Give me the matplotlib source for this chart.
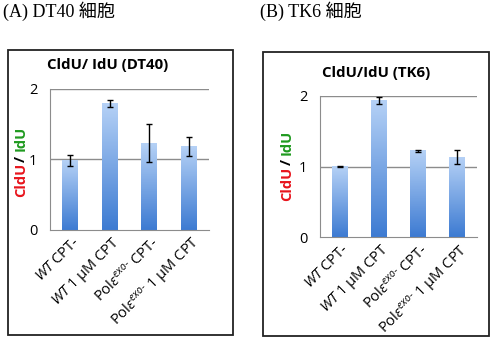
import numpy as np
import matplotlib.pyplot as plt
from matplotlib.colors import LinearSegmentedColormap
from matplotlib.patches import Rectangle

# Daten
categories = [r"$\mathit{WT}$ CPT-", r"$\mathit{WT}$ 1 μM CPT",
              r"Pol$\mathit{\varepsilon}^{\text{exo-}}$ CPT-",
              r"Pol$\mathit{\varepsilon}^{\text{exo-}}$ 1 μM CPT"]
dt40_values = [0.98, 1.79, 1.23, 1.18]
dt40_errors = [0.08, 0.05, 0.27, 0.13]
tk6_values = [1.00, 1.94, 1.22, 1.13]
tk6_errors = [0.01, 0.05, 0.02, 0.10]
yticks = [0, 1, 2]

plt.rcParams['font.family'] = ['Open Sans', 'DejaVu Sans']
plt.rcParams['mathtext.fontset'] = 'custom'
plt.rcParams['mathtext.rm'] = 'Open Sans:italic'
plt.rcParams['mathtext.it'] = 'Open Sans:italic'
plt.rcParams['mathtext.bf'] = 'Open Sans:bold'

cmap = LinearSegmentedColormap.from_list('bar', ['#3d7bd2', '#b5d1f6'])
grad = np.linspace(0, 1, 100).reshape(-1, 1)

fig = plt.figure(figsize=(4.95, 3.62), dpi=100)

# Rahmen der beiden Panels
fig.patches.append(Rectangle((0.016, 0.075), 0.455, 0.787, transform=fig.transFigure,
                             fill=False, edgecolor='#222222', linewidth=1.3))
fig.patches.append(Rectangle((0.531, 0.072), 0.457, 0.785, transform=fig.transFigure,
                             fill=False, edgecolor='#222222', linewidth=1.3))

cjk = ['Liberation Serif', 'Noto Sans CJK JP']
fig.text(0.006, 0.968, '(A) DT40 細胞', family=cjk, fontsize=13, va='center')
fig.text(0.526, 0.968, '(B) TK6 細胞', family=cjk, fontsize=13, va='center')


def panel(rect, values, errors, title, title_pos, ylab_pos):
    ax = fig.add_axes(rect)
    x = np.arange(len(values))
    bars = ax.bar(x, values, width=0.4, color='none', edgecolor='none', zorder=2)
    for b in bars:
        x0 = b.get_x()
        ax.imshow(grad, extent=[x0, x0 + b.get_width(), 0, b.get_height()],
                  origin='lower', aspect='auto', cmap=cmap, zorder=2)
    ax.errorbar(x, values, yerr=errors, fmt='none', ecolor='black',
                elinewidth=1, capsize=2.5, capthick=1, zorder=3)
    ax.set_xlim(-0.5, len(values) - 0.5)
    ax.set_ylim(0, 2)
    ax.set_yticks(yticks)
    ax.set_yticklabels([str(t) for t in yticks], fontsize=10.5)
    ax.tick_params(axis='y', length=0, pad=9)
    ax.tick_params(axis='x', length=0, pad=3)
    ax.set_xticks(x + 0.05)
    ax.set_xticklabels(categories, rotation=45, ha='right', va='top',
                       rotation_mode='anchor', fontsize=10.5)
    for t in yticks[1:]:
        ax.axhline(t, color='#8c8c8c', linewidth=1, zorder=1)
    for s in ['top', 'right']:
        ax.spines[s].set_visible(False)
    for s in ['left', 'bottom']:
        ax.spines[s].set_color('#8c8c8c')
    fig.text(title_pos[0], title_pos[1], title, fontsize=10.8, fontweight='bold',
             ha='center', va='center')
    # y-Beschriftung zweifarbig, Teile aneinandergehaengt
    xl, yb = ylab_pos
    t1 = fig.text(xl, yb, 'CldU', color='#e8141c', fontsize=10.5, fontweight='bold',
                  rotation=90, ha='center', va='bottom')
    t2 = ax.annotate('/', xy=(0.5, 1), xycoords=t1, xytext=(0, 1),
                     textcoords='offset points', color='black', fontsize=10.5,
                     fontweight='bold', rotation=90, ha='center', va='bottom',
                     annotation_clip=False)
    ax.annotate('IdU', xy=(0.5, 1), xycoords=t2, xytext=(0, 3),
                textcoords='offset points', color='#1f9a1f', fontsize=10.5,
                fontweight='bold', rotation=90, ha='center', va='bottom',
                annotation_clip=False)
    return ax


panel([0.101, 0.365, 0.321, 0.39], dt40_values, dt40_errors,
      'CldU/ IdU (DT40)', (0.218, 0.820), (0.042, 0.455))
panel([0.6465, 0.345, 0.317, 0.39], tk6_values, tk6_errors,
      'CldU/IdU (TK6)', (0.760, 0.798), (0.580, 0.445))

fig.savefig('out.png', dpi=100)
